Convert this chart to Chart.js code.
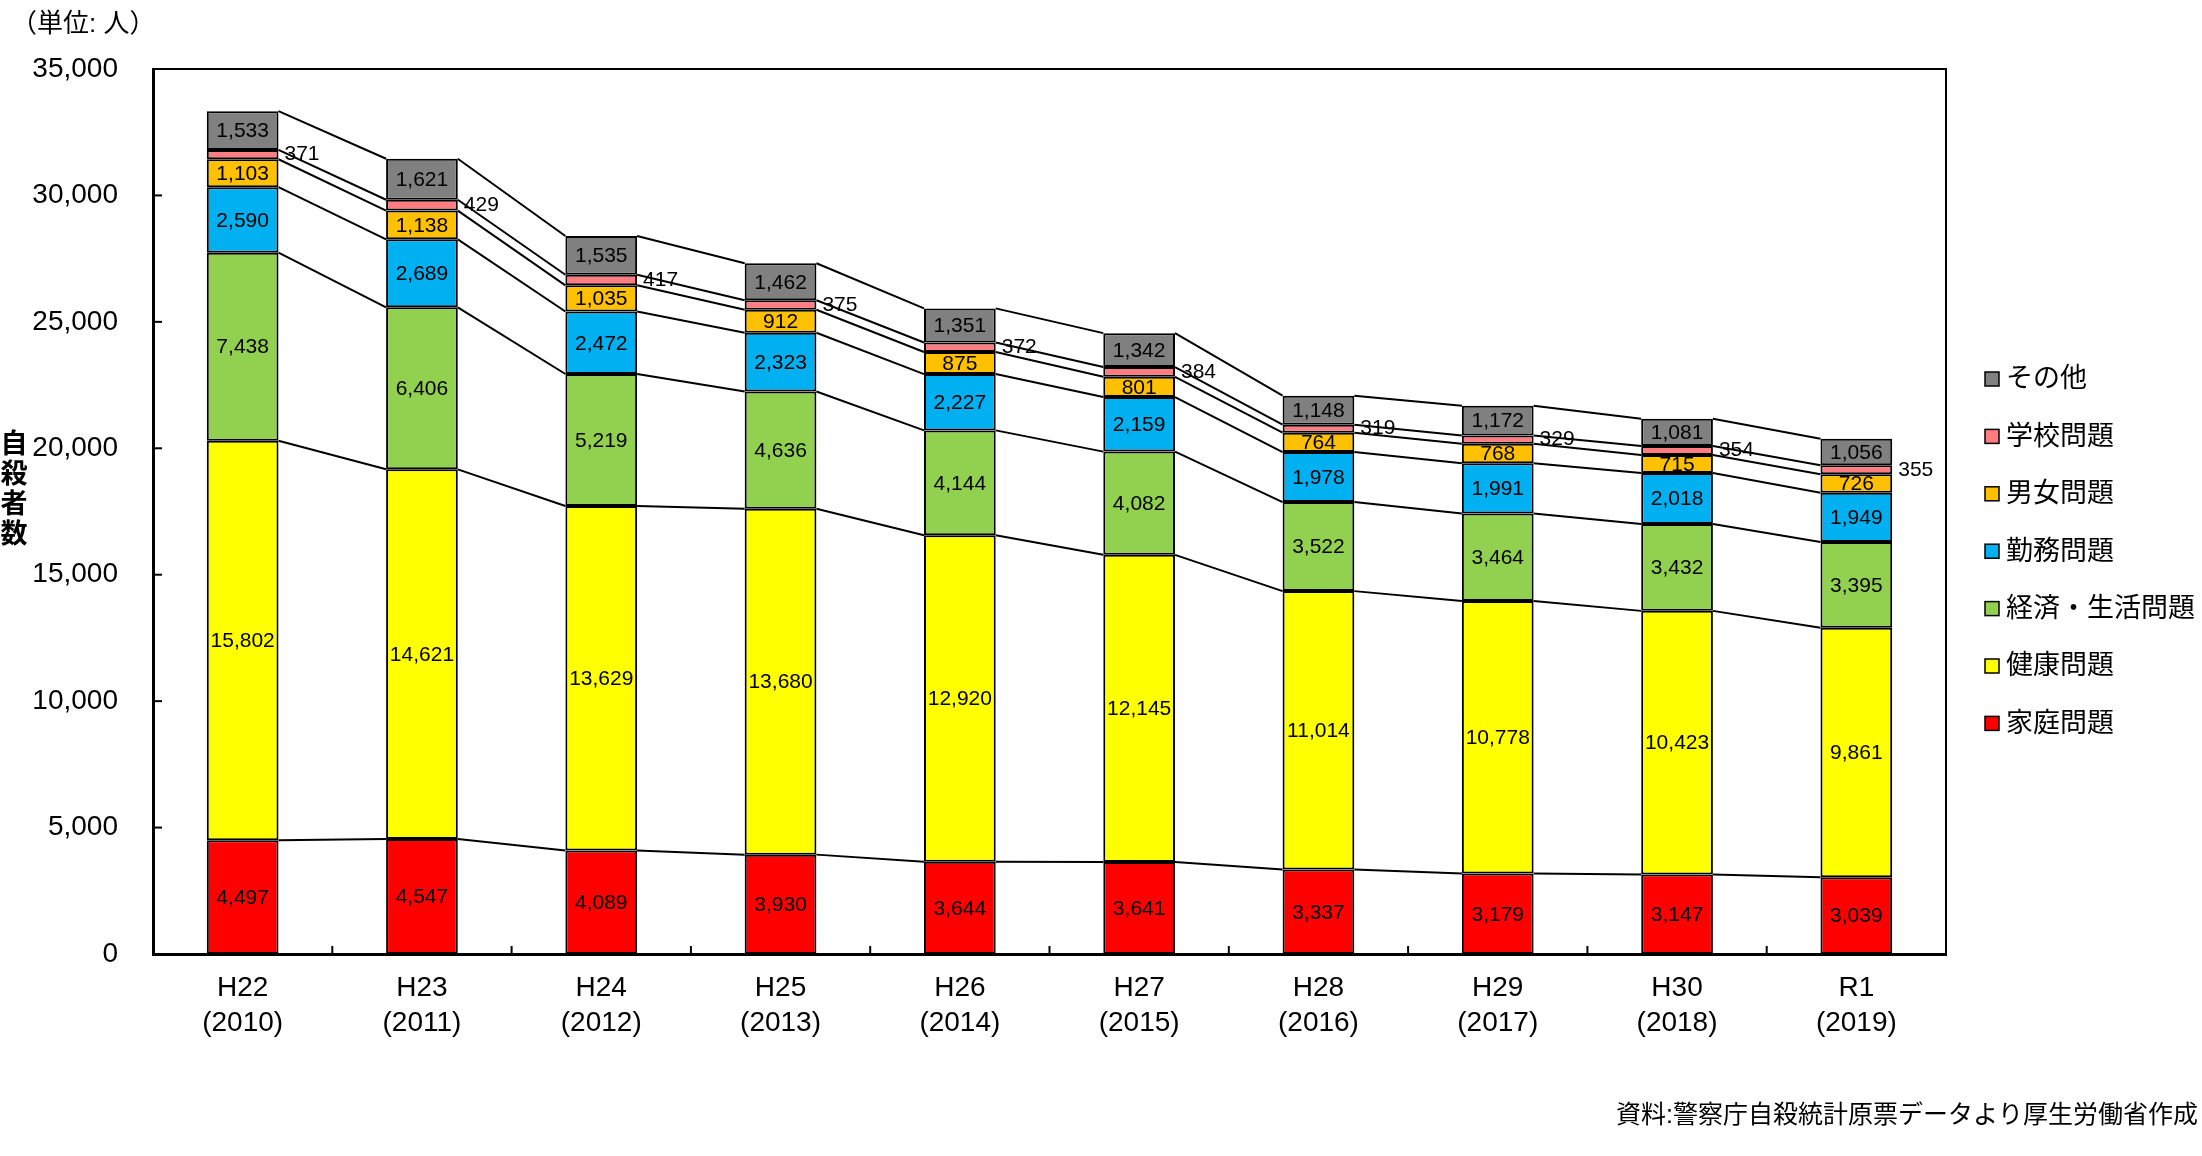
<!DOCTYPE html>
<html><head><meta charset="utf-8">
<script src="https://cdn.jsdelivr.net/npm/chart.js@4.4.1/dist/chart.umd.min.js"></script>
<style>html,body{margin:0;padding:0;background:#fff;} #wrap{width:2202px;height:1156px;position:relative;}</style>
</head><body><div id="wrap"><canvas id="c"></canvas></div>
<script>
// ---- data ----
const categories = [['H22','(2010)'],['H23','(2011)'],['H24','(2012)'],['H25','(2013)'],['H26','(2014)'],['H27','(2015)'],['H28','(2016)'],['H29','(2017)'],['H30','(2018)'],['R1','(2019)']];
const seriesNames = ['家庭問題','健康問題','経済・生活問題','勤務問題','男女問題','学校問題','その他'];
const kateiValues   = [4497,4547,4089,3930,3644,3641,3337,3179,3147,3039];
const kenkouValues  = [15802,14621,13629,13680,12920,12145,11014,10778,10423,9861];
const keizaiValues  = [7438,6406,5219,4636,4144,4082,3522,3464,3432,3395];
const kinmuValues   = [2590,2689,2472,2323,2227,2159,1978,1991,2018,1949];
const danjoValues   = [1103,1138,1035,912,875,801,764,768,715,726];
const gakkouValues  = [371,429,417,375,372,384,319,329,354,355];
const sonotaValues  = [1533,1621,1535,1462,1351,1342,1148,1172,1081,1056];
const yTickMin = 0, yTickMax = 35000, yTickStep = 5000;
const unitText = '（単位: 人）';
const sourceText = '資料:警察庁自殺統計原票データより厚生労働省作成';
const yTitleChars = ['自','殺','者','数'];

// ---- styles ----
const seriesColors = ['#FF0000','#FFFF00','#92D050','#00B0F0','#FFC000','#FF7C80','#808080'];
const outsideLabelSeries = 5; // 学校問題 labels drawn to the right of the bar
const FONT = "'Liberation Sans', 'Noto Sans CJK JP', sans-serif";
const fmt = v => v.toLocaleString('en-US');

const allValues = [kateiValues,kenkouValues,keizaiValues,kinmuValues,danjoValues,gakkouValues,sonotaValues];
const datasets = allValues.map((vals,i)=>({
  label: seriesNames[i],
  data: vals,
  backgroundColor: seriesColors[i],
  borderColor: '#000',
  borderWidth: 2,
  borderSkipped: false,
  barPercentage: 0.40,
  categoryPercentage: 1.0
}));

const decorPlugin = {
  id: 'decor',
  afterDatasetsDraw(chart){
    const ctx = chart.ctx;
    const ca = chart.chartArea;
    const xs = chart.scales.x, ys = chart.scales.y;
    ctx.save();
    // frame top/right
    ctx.strokeStyle = '#000';
    ctx.lineWidth = 2;
    ctx.beginPath();
    ctx.moveTo(ca.left, ca.top); ctx.lineTo(ca.right, ca.top); ctx.lineTo(ca.right, ca.bottom);
    ctx.stroke();
    // inside ticks y
    ctx.lineWidth = 2;
    for(let v=yTickMin; v<=yTickMax; v+=yTickStep){
      const py = ys.getPixelForValue(v);
      ctx.beginPath(); ctx.moveTo(ca.left, py); ctx.lineTo(ca.left+9, py); ctx.stroke();
    }
    // inside ticks x (category boundaries)
    for(let k=1;k<categories.length;k++){
      const px = (xs.getPixelForValue(k-1)+xs.getPixelForValue(k))/2;
      ctx.beginPath(); ctx.moveTo(px, ca.bottom); ctx.lineTo(px, ca.bottom-8); ctx.stroke();
    }
    // series lines
    ctx.lineWidth = 2;
    chart.data.datasets.forEach((ds,i)=>{
      const meta = chart.getDatasetMeta(i);
      for(let j=0;j<meta.data.length-1;j++){
        const a = meta.data[j], b = meta.data[j+1];
        ctx.beginPath();
        ctx.moveTo(a.x + a.width/2, a.y);
        ctx.lineTo(b.x - b.width/2, b.y);
        ctx.stroke();
      }
    });
    // data labels
    ctx.fillStyle = '#000';
    ctx.font = '21px ' + FONT;
    ctx.textBaseline = 'middle';
    chart.data.datasets.forEach((ds,i)=>{
      const meta = chart.getDatasetMeta(i);
      meta.data.forEach((el,j)=>{
        const cy = (el.y + el.base)/2;
        const txt = fmt(ds.data[j]);
        if(i===outsideLabelSeries){
          ctx.textAlign = 'left';
          ctx.fillText(txt, el.x + el.width/2 + 6, cy);
        } else {
          ctx.textAlign = 'center';
          ctx.fillText(txt, el.x, cy + 1);
        }
      });
    });
    // legend (reverse order)
    ctx.font = '27px ' + FONT;
    ctx.textAlign = 'left';
    const n = chart.data.datasets.length;
    for(let k=0;k<n;k++){
      const i = n-1-k;
      const cy = 379 + k*57.4;
      ctx.fillStyle = seriesColors[i];
      ctx.fillRect(1985, cy-7, 14, 14);
      ctx.lineWidth = 1.5; ctx.strokeStyle = '#000';
      ctx.strokeRect(1985, cy-7, 14, 14);
      ctx.fillStyle = '#000';
      ctx.fillText(seriesNames[i], 2006, cy+1);
    }
    // y title stacked
    ctx.font = 'bold 27px ' + FONT;
    ctx.textAlign = 'center';
    yTitleChars.forEach((ch,k)=>{ ctx.fillText(ch, 14, 446 + k*30); });
    // unit
    ctx.font = '26px ' + FONT;
    ctx.textAlign = 'left';
    ctx.fillText(unitText, 11, 25);
    // source
    ctx.font = '25px ' + FONT;
    ctx.textAlign = 'right';
    ctx.fillText(sourceText, 2198, 1116);
    ctx.restore();
  }
};

new Chart(document.getElementById('c'), {
  type: 'bar',
  data: { labels: categories, datasets },
  options: {
    responsive: true,
    maintainAspectRatio: false,
    animation: false,
    devicePixelRatio: 1,
    layout: { padding: { left: 10, top: 69, right: 256, bottom: 0 } },
    plugins: { legend: { display: false }, tooltip: { enabled: false } },
    scales: {
      x: {
        stacked: true,
        grid: { display: false, drawTicks: false },
        border: { display: true, color: '#000', width: 3 },
        ticks: { color: '#000', font: { family: FONT, size: 28, lineHeight: 1.25 }, padding: 17, maxRotation: 0, autoSkip: false },
        afterFit(s){ s.height = 202; }
      },
      y: {
        stacked: true,
        min: yTickMin, max: yTickMax,
        grid: { display: false, drawTicks: false },
        border: { display: true, color: '#000', width: 3 },
        ticks: { stepSize: yTickStep, color: '#000', font: { family: FONT, size: 28 }, padding: 35, callback: v => fmt(v) },
        afterFit(s){ s.width = 143; }
      }
    }
  },
  plugins: [decorPlugin]
});
</script>
</body></html>
